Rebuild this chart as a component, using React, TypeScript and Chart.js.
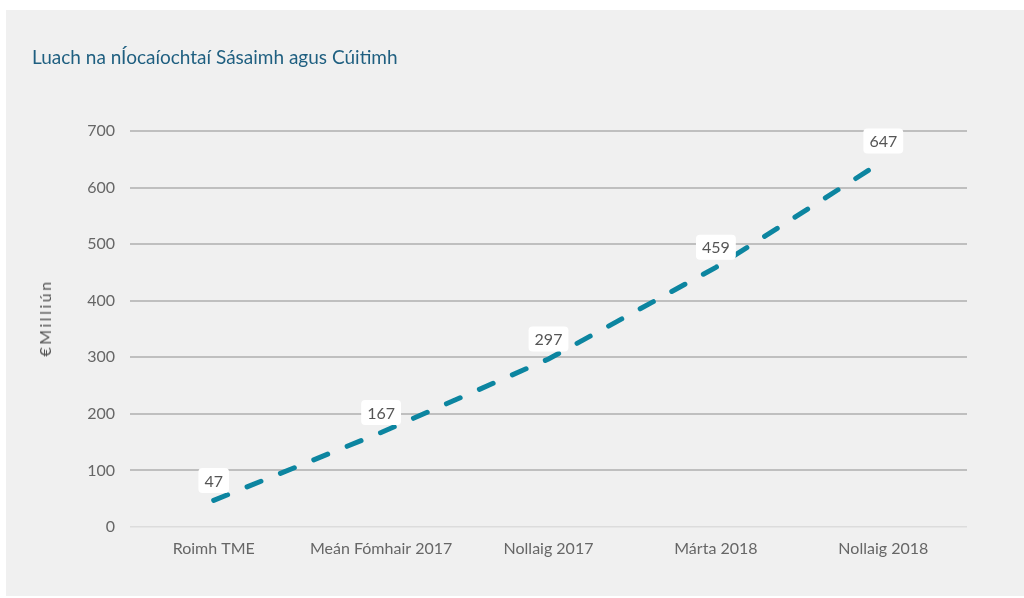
import React, { useEffect, useRef } from "react";
import { Chart, registerables } from "chart.js";

Chart.register(...registerables);

const TITLE = "Luach na nÍocaíochtaí Sásaimh agus Cúitimh";
const Y_TITLE = "€Milliún";
const CATEGORIES = ["Roimh TME", "Meán Fómhair 2017", "Nollaig 2017", "Márta 2018", "Nollaig 2018"];
const VALUES = [47, 167, 297, 459, 647];
const Y_MIN = 0;
const Y_MAX = 700;
const Y_STEP = 100;

const FONT = "Lato, 'Open Sans', sans-serif";

const labelPlugin = {
  id: "boxLabels",
  afterDatasetsDraw(chart: any) {
    const ctx = chart.ctx;
    const meta = chart.getDatasetMeta(0);
    ctx.save();
    ctx.font = `16px ${FONT}`;
    ctx.textAlign = "center";
    ctx.textBaseline = "middle";
    meta.data.forEach((pt: any, i: number) => {
      const txt = String(VALUES[i]);
      const w = ctx.measureText(txt).width + 12;
      const h = 25;
      const cx = pt.x;
      const cy = pt.y - 20;
      ctx.fillStyle = "#ffffff";
      ctx.beginPath();
      (ctx as any).roundRect(cx - w / 2, cy - h / 2, w, h, 4);
      ctx.fill();
      ctx.fillStyle = "#555555";
      ctx.fillText(txt, cx, cy + 1);
    });
    ctx.restore();
  },
};

export default function App() {
  const ref = useRef<HTMLCanvasElement>(null);

  useEffect(() => {
    document.body.style.margin = "0";
    const chart = new Chart(ref.current!, {
      type: "line",
      data: {
        labels: CATEGORIES,
        datasets: [
          {
            data: VALUES,
            borderColor: "#0c85a0",
            borderWidth: 5,
            borderDash: [15, 21],
            borderCapStyle: "round",
            pointRadius: 0,
            fill: false,
            tension: 0,
          },
        ],
      },
      options: {
        animation: false,
        responsive: false,
        maintainAspectRatio: false,
        layout: { padding: { top: 121, right: 57, bottom: 0, left: 0 } },
        plugins: {
          legend: { display: false },
          title: { display: false },
          tooltip: { enabled: false },
        },
        scales: {
          x: {
            type: "category",
            offset: true,
            grid: { display: false, drawTicks: false },
            border: { display: false },
            ticks: {
              color: "#666666",
              font: { family: FONT, size: 16 },
              padding: 12,
              maxRotation: 0,
            },
            afterFit(scale: any) {
              scale.height = 69;
            },
          },
          y: {
            min: Y_MIN,
            max: Y_MAX,
            border: { display: false },
            grid: {
              drawTicks: false,
              color: (c: any) => (c.tick && c.tick.value === 0 ? "#dcdcdc" : "#bfbfbf"),
              lineWidth: (c: any) => (c.tick && c.tick.value === 0 ? 1.5 : 2),
            },
            ticks: {
              stepSize: Y_STEP,
              color: "#666666",
              font: { family: FONT, size: 16 },
              padding: 15,
            },
            title: { display: false },
            afterFit(scale: any) {
              scale.width = 124;
            },
          },
        },
      },
      plugins: [labelPlugin],
    });
    return () => chart.destroy();
  }, []);

  return (
    <div style={{ position: "relative", width: 1024, height: 598, background: "#ffffff", overflow: "hidden" }}>
      <div style={{ position: "absolute", left: 6, top: 10, width: 1018, height: 586, background: "#f0f0f0" }}>
        <canvas ref={ref} width={1018} height={586} style={{ display: "block" }} />
        <div
          style={{
            position: "absolute",
            left: 26,
            top: 36,
            fontFamily: FONT,
            fontSize: 19,
            lineHeight: "22px",
            color: "#1f5f80",
            whiteSpace: "nowrap",
          }}
        >
          {TITLE}
        </div>
        <div
          style={{
            position: "absolute",
            left: 39,
            top: 308,
            width: 0,
            height: 0,
          }}
        >
          <div
            style={{
              position: "absolute",
              left: 0,
              top: 0,
              transform: "translate(-50%, -50%) rotate(-90deg)",
              fontFamily: FONT,
              fontSize: 16,
              lineHeight: "18px",
              letterSpacing: "2.5px",
              color: "#555555",
              whiteSpace: "nowrap",
            }}
          >
            {Y_TITLE}
          </div>
        </div>
      </div>
    </div>
  );
}
